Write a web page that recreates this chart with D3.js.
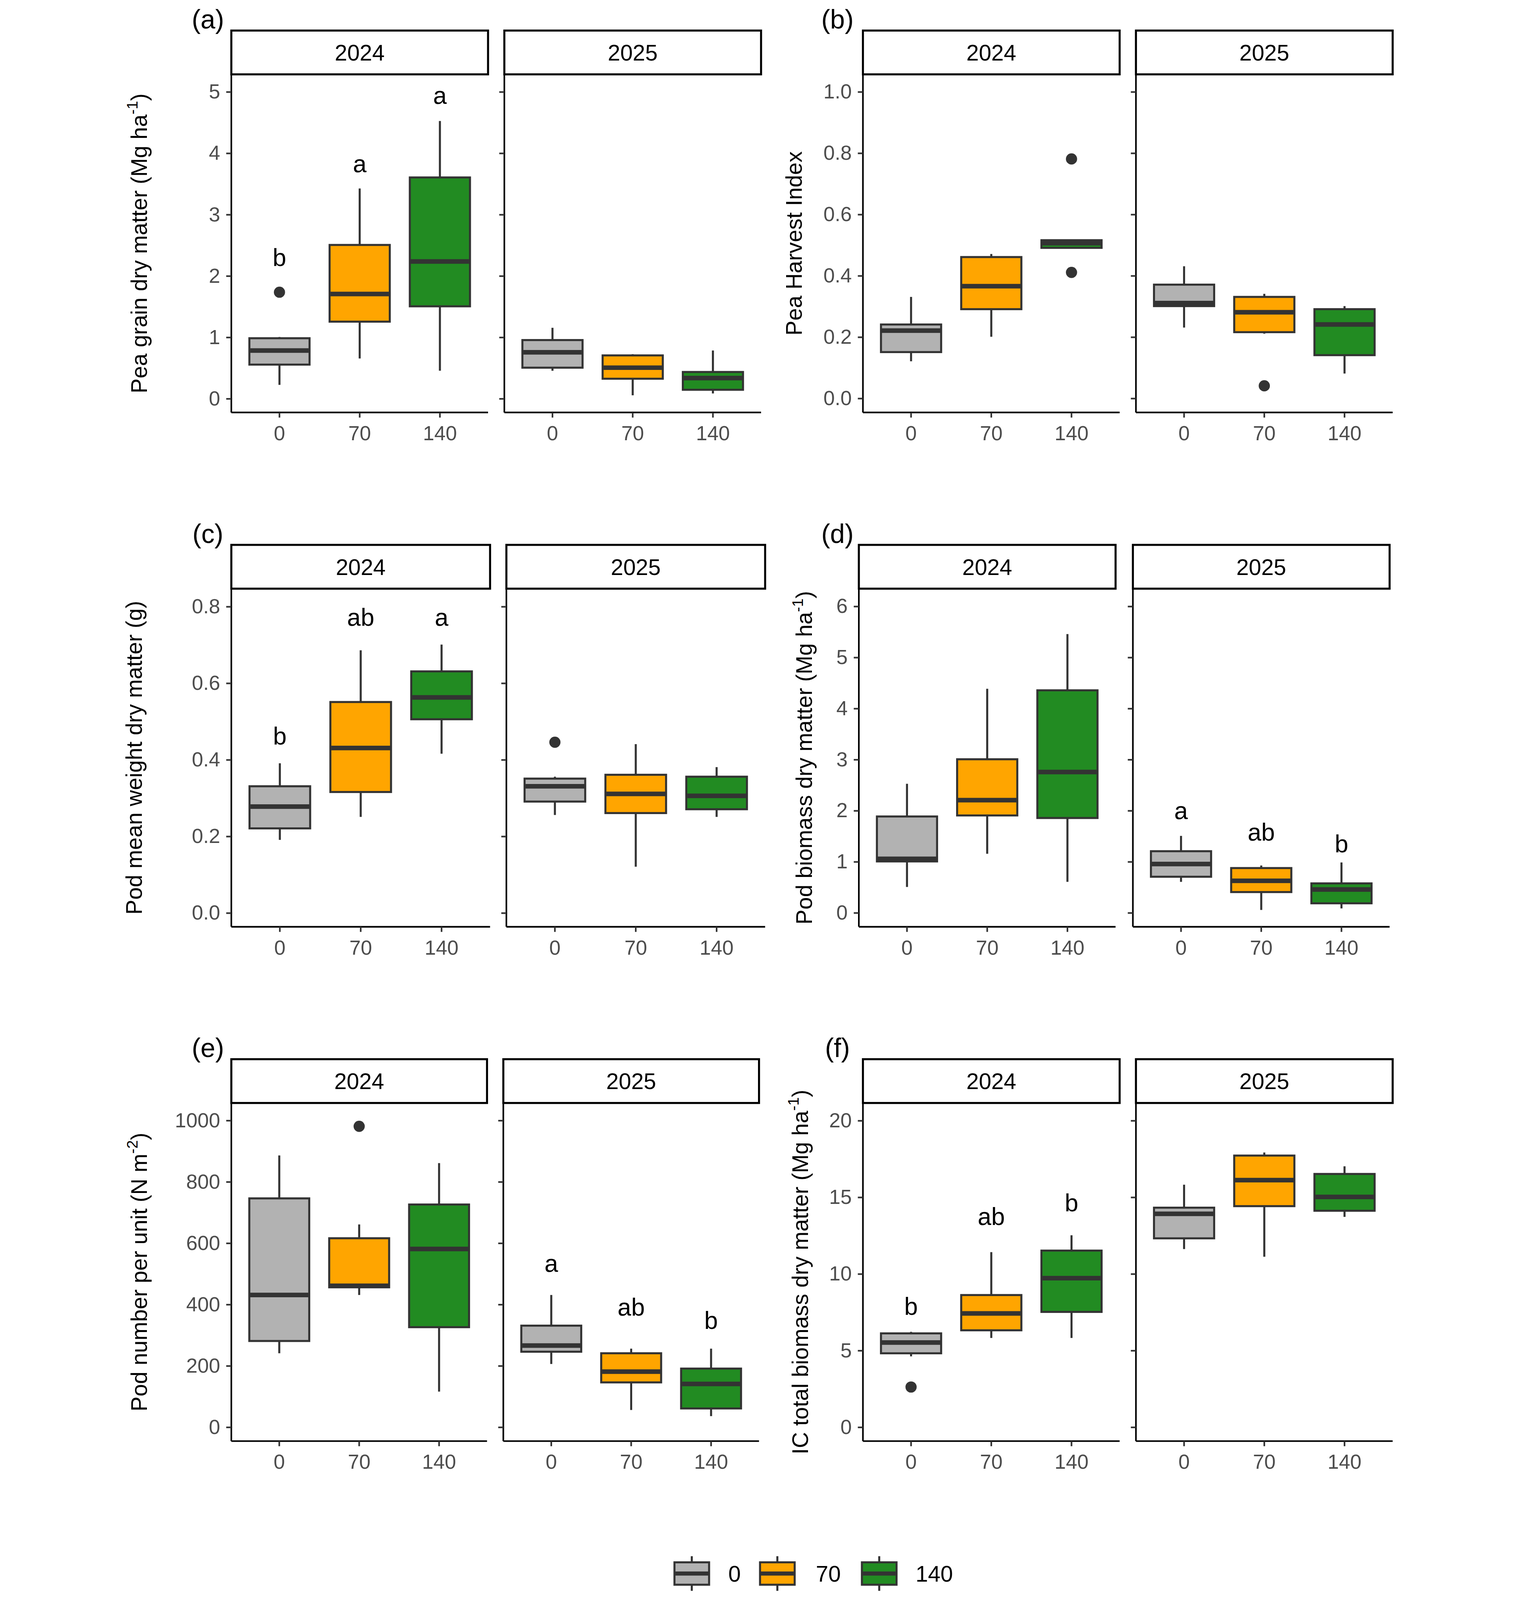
<!DOCTYPE html>
<html><head><meta charset="utf-8">
<script src="https://cdn.jsdelivr.net/npm/d3@7"></script>
<style>html,body{margin:0;padding:0;background:#fff;overflow:hidden;width:100%;height:100%}svg{display:block}</style></head>
<body><svg id="c"></svg>
<script>
const levels = ["0","70","140"];
const years = ["2024","2025"];
const colors = ["#b2b2b2","#ffa500","#228b22"];
const panelLabels = ["(a)","(b)","(c)","(d)","(e)","(f)"];
const yTitles = [["Pea grain dry matter (Mg ha","-1",")"],["Pea Harvest Index"],["Pod mean weight dry matter (g)"],["Pod biomass dry matter (Mg ha","-1",")"],["Pod number per unit (N m","-2",")"],["IC total biomass dry matter (Mg ha","-1",")"]];
const yTicks = [[0,1,2,3,4,5],[0,0.2,0.4,0.6,0.8,1.0],[0,0.2,0.4,0.6,0.8],[0,1,2,3,4,5,6],[0,200,400,600,800,1000],[0,5,10,15,20]];
const yFormats = ["d",".1f",".1f","d","d","d"];
const yDomains = [[-0.23,5.28],[-0.047,1.056],[-0.037,0.846],[-0.28,6.34],[-46.5,1056],[-0.93,21.13]];
// boxes: [lower whisker, q1, median, q3, upper whisker], per panel -> year -> level
const boxA = [[[0.22,0.55,0.78,0.98,1.0],[0.65,1.25,1.7,2.5,3.42],[0.45,1.5,2.23,3.6,4.52]],[[0.45,0.5,0.75,0.95,1.15],[0.05,0.32,0.5,0.7,0.72],[0.08,0.14,0.33,0.43,0.78]]];
const boxB = [[[0.12,0.15,0.22,0.24,0.33],[0.2,0.29,0.365,0.46,0.47],[0.49,0.49,0.505,0.515,0.515]],[[0.23,0.30,0.31,0.37,0.43],[0.21,0.215,0.28,0.33,0.34],[0.08,0.14,0.24,0.29,0.30]]];
const boxC = [[[0.19,0.22,0.277,0.33,0.39],[0.25,0.315,0.43,0.55,0.685],[0.415,0.505,0.562,0.63,0.70]],[[0.255,0.29,0.33,0.35,0.355],[0.12,0.26,0.31,0.36,0.44],[0.25,0.27,0.305,0.355,0.38]]];
const boxD = [[[0.5,1.0,1.05,1.88,2.52],[1.15,1.9,2.2,3.0,4.38],[0.6,1.85,2.75,4.35,5.45]],[[0.6,0.7,0.95,1.2,1.5],[0.05,0.4,0.62,0.87,0.92],[0.08,0.18,0.45,0.57,0.98]]];
const boxE = [[[240,280,430,745,885],[430,455,460,615,660],[115,325,580,725,860]],[[205,245,265,330,430],[55,145,180,240,255],[35,60,140,190,255]]];
const boxF = [[[4.6,4.8,5.5,6.1,6.2],[5.8,6.3,7.4,8.6,11.4],[5.8,7.5,9.7,11.5,12.5]],[[11.6,12.3,13.9,14.3,15.8],[11.1,14.4,16.1,17.7,17.9],[13.7,14.1,15.0,16.5,17.0]]];
const boxes = [boxA,boxB,boxC,boxD,boxE,boxF];
// outliers: [yearIndex, levelIndex, value]
const outliers = [[[0,0,1.73]],[[0,2,0.78],[0,2,0.41],[1,1,0.04]],[[1,0,0.445]],[],[[0,1,980]],[[0,0,2.6]]];
// letters: [yearIndex, levelIndex, text, y value]
const letters = [
 [[0,0,"b",2.29],[0,1,"a",3.82],[0,2,"a",4.93]],
 [],
 [[0,0,"b",0.46],[0,1,"ab",0.77],[0,2,"a",0.77]],
 [[1,0,"a",1.99],[1,1,"ab",1.57],[1,2,"b",1.34]],
 [[1,0,"a",532],[1,1,"ab",389],[1,2,"b",346]],
 [[0,0,"b",7.84],[0,1,"ab",13.7],[0,2,"b",14.6]]
];

const W=1270,H=1571;
const svg=d3.select("#c").attr("width","100%").attr("height","100%")
  .attr("viewBox",`0 0 ${W} ${H}`).attr("preserveAspectRatio","xMidYMin meet");
const font="Liberation Sans, Arial, sans-serif";
const layout=[
 {f:[118,386],w:252,top:73,lx:95,tx:27},
 {f:[738,1006],w:252,top:73,lx:713,tx:670},
 {f:[118,388],w:254,top:578,lx:95,tx:22},
 {f:[734,1003],w:252,top:578,lx:713,tx:680},
 {f:[118,385],w:251,top:1083,lx:95,tx:27},
 {f:[738,1006],w:252,top:1083,lx:713,tx:676}
];
const stripH=43, plotH=332;
layout.forEach((L,p)=>{
  const g=svg.append("g");
  const y=d3.scaleLinear().domain(yDomains[p]).range([L.top+plotH,L.top]);
  g.append("text").attr("x",L.lx).attr("y",L.top-stripH-2).attr("text-anchor","middle")
   .attr("font-family",font).attr("font-size",26).text(panelLabels[p]);
  years.forEach((yr,yi)=>{
    const x0=L.f[yi];
    const x=d3.scaleBand().domain(levels).range([x0,x0+L.w]).paddingInner(0).paddingOuter(0.1);
    const bw=x.bandwidth();
    const xc=d=>x(d)+bw/2;
    const boxW=bw*0.75;
    g.append("rect").attr("x",x0).attr("y",L.top-stripH).attr("width",L.w).attr("height",stripH)
     .attr("fill","#fff").attr("stroke","#000").attr("stroke-width",2);
    g.append("text").attr("x",x0+L.w/2).attr("y",L.top-stripH/2+8).attr("text-anchor","middle")
     .attr("font-family",font).attr("font-size",22).text(yr);
    const xa=g.append("g").attr("transform",`translate(0,${L.top+plotH})`)
      .call(d3.axisBottom(x).tickSize(5).tickPadding(8));
    xa.select(".domain").attr("d",`M${x0},0H${x0+L.w}`).attr("stroke","#000").attr("stroke-width",1.6);
    xa.selectAll(".tick line").attr("stroke","#333").attr("stroke-width",1.6);
    xa.selectAll("text").attr("font-family",font).attr("font-size",20).attr("fill","#4d4d4d");
    const ya=g.append("g").attr("transform",`translate(${x0},0)`)
      .call(d3.axisLeft(y).tickValues(yTicks[p]).tickFormat(d3.format(yFormats[p])).tickSize(5).tickPadding(6));
    ya.select(".domain").attr("d",`M0,${L.top}V${L.top+plotH}`).attr("stroke","#000").attr("stroke-width",1.6);
    ya.selectAll(".tick line").attr("stroke","#333").attr("stroke-width",1.6);
    ya.selectAll("text").attr("font-family",font).attr("font-size",20).attr("fill","#4d4d4d");
    if(yi===1) ya.selectAll("text").remove();
    boxes[p][yi].forEach((b,li)=>{
      const cx=xc(levels[li]);
      const bg=g.append("g").attr("stroke","#333");
      bg.append("line").attr("x1",cx).attr("x2",cx).attr("y1",y(b[0])).attr("y2",y(b[1])).attr("stroke-width",2);
      bg.append("line").attr("x1",cx).attr("x2",cx).attr("y1",y(b[3])).attr("y2",y(b[4])).attr("stroke-width",2);
      bg.append("rect").attr("x",cx-boxW/2).attr("width",boxW).attr("y",y(b[3])).attr("height",Math.max(0,y(b[1])-y(b[3])))
        .attr("fill",colors[li]).attr("stroke-width",2);
      bg.append("line").attr("x1",cx-boxW/2).attr("x2",cx+boxW/2).attr("y1",y(b[2])).attr("y2",y(b[2])).attr("stroke-width",4.5);
    });
    outliers[p].filter(o=>o[0]===yi).forEach(o=>{
      g.append("circle").attr("cx",xc(levels[o[1]])).attr("cy",y(o[2])).attr("r",5.5).attr("fill","#333");
    });
    letters[p].filter(o=>o[0]===yi).forEach(o=>{
      g.append("text").attr("x",xc(levels[o[1]])).attr("y",y(o[3])+8).attr("text-anchor","middle")
       .attr("font-family",font).attr("font-size",24).text(o[2]);
    });
  });
  const t=g.append("text").attr("transform",`translate(${L.tx+8},${L.top+plotH/2}) rotate(-90)`)
    .attr("text-anchor","middle").attr("font-family",font).attr("font-size",22);
  const parts=yTitles[p];
  t.append("tspan").text(parts[0]);
  if(parts.length>1){
    t.append("tspan").attr("dy",-9).attr("font-size",15).text(parts[1]);
    t.append("tspan").attr("dy",9).text(parts[2]);
  }
});
const legX=[553,637,737], legLab=[612,704,808];
levels.forEach((l,i)=>{
  const g=svg.append("g").attr("stroke","#333");
  const kx=legX[i], ky=1545;
  g.append("line").attr("x1",kx+17).attr("x2",kx+17).attr("y1",ky-17).attr("y2",ky+17).attr("stroke-width",2);
  g.append("rect").attr("x",kx).attr("y",ky-11).attr("width",34).attr("height",22).attr("fill",colors[i]).attr("stroke-width",2);
  g.append("line").attr("x1",kx).attr("x2",kx+34).attr("y1",ky).attr("y2",ky).attr("stroke-width",4);
  svg.append("text").attr("x",legLab[i]).attr("y",ky+8).attr("text-anchor","middle")
    .attr("font-family",font).attr("font-size",22).text(l);
});
</script></body></html>
